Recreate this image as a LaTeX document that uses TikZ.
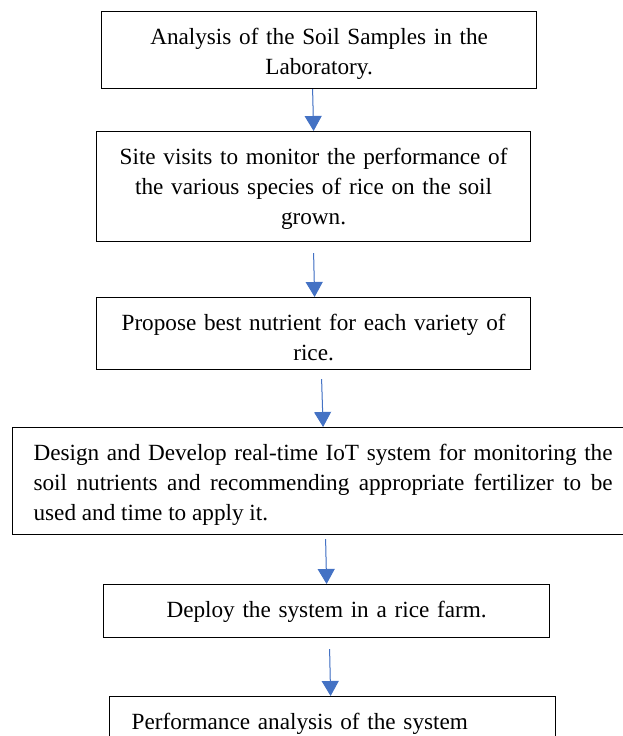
\documentclass[tikz,border=0pt]{standalone}
\usepackage{fontspec}
\setmainfont{Liberation Serif}
\usepackage{tikz}
\usetikzlibrary{arrows.meta}
\definecolor{ink}{HTML}{000000}
\definecolor{flowblue}{HTML}{4472C4}
\tikzset{
  every node/.style={font=\fontsize{23.2}{30}\selectfont,text=ink},
  stage/.style={draw=ink,line width=1.2pt,fill=white,align=center,inner xsep=10pt,inner ysep=0pt,text height=33pt},
  wide/.style={stage,align=justify,inner xsep=21pt},
  flow/.style={-{Triangle[width=17pt,length=15pt]},line width=1pt,draw=flowblue,fill=flowblue}
}
\begin{document}
\begin{tikzpicture}[x=1pt,y=-1pt]
  \useasboundingbox (0,0) rectangle (623,736);
  \clip (0,0) rectangle (623,736);
  \node[stage,anchor=north west,text width=415pt,text depth=44pt] (soil) at (101,11) {Analysis of the Soil Samples in the\\Laboratory.};
  \node[stage,anchor=north west,text width=414pt,text depth=77pt] (visit) at (96,131) {Site visits to monitor the performance of\\the various species of rice on the soil\\grown.};
  \node[stage,anchor=north west,text width=414pt,text depth=39pt] (nutrient) at (96,297) {Propose best nutrient for each variety of\\rice.};
  \node[wide,anchor=north west,text width=579pt,text depth=74pt] (iot) at (12,427) {\hyphenpenalty=10000 Design and Develop real-time IoT system for monitoring the soil nutrients and recommending appropriate fertilizer to be used and time to apply it.};
  \node[stage,anchor=north west,text width=426pt,text depth=20pt] (deploy) at (103,584) {Deploy the system in a rice farm.};
  \node[stage,align=left,inner xsep=22pt,anchor=north west,text width=402pt,text depth=40pt] (perf) at (109,696) {Performance analysis of the system};

  \draw[flow] ([xshift=-6.5pt]soil.south)--(visit.north);
  \draw[flow] ([yshift=-11pt]visit.south)--([xshift=1pt]nutrient.north);
  \draw[flow] ([xshift=8pt,yshift=-9pt]nutrient.south)--(iot.north);
  \draw[flow] ([xshift=2.5pt,yshift=-4pt]iot.south)--(deploy.north);
  \draw[flow] ([xshift=3pt,yshift=-11pt]deploy.south)--([xshift=-2pt]perf.north);
\end{tikzpicture}
\end{document}
